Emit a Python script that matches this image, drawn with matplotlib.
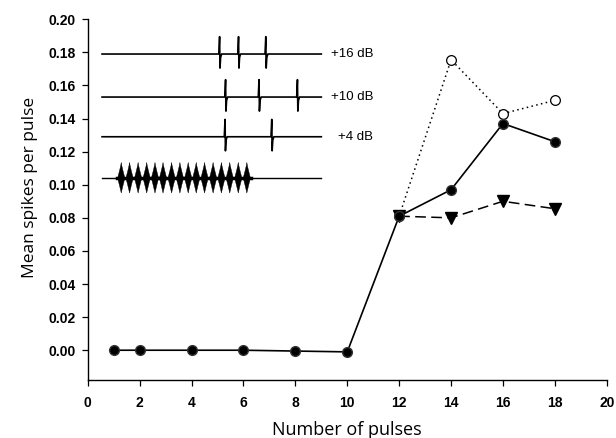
import matplotlib
matplotlib.use("Agg")
import matplotlib.pyplot as plt
import numpy as np

# ---- data ----
x_solid = [1, 2, 4, 6, 8, 10, 12, 14, 16, 18]
y_solid = [0.000, 0.000, 0.000, 0.000, -0.0005, -0.001, 0.081, 0.097, 0.137, 0.126]
x_open = [12, 14, 16, 18]
y_open = [0.081, 0.1755, 0.143, 0.151]
x_tri = [12, 14, 16, 18]
y_tri = [0.081, 0.080, 0.090, 0.0855]

x_ticks = [0, 2, 4, 6, 8, 10, 12, 14, 16, 18, 20]
y_ticks = [0.00, 0.02, 0.04, 0.06, 0.08, 0.10, 0.12, 0.14, 0.16, 0.18, 0.20]

# inset traces (drawn in data coordinates)
trace_labels = ["+16 dB", "+10 dB", "+4 dB"]
trace_levels = [0.179, 0.153, 0.129]
spike_times = [[5.08, 5.81, 6.86], [5.31, 6.60, 8.08], [5.29, 7.09]]
stim_level = 0.104
pulse_centers = [1.29, 1.61, 1.94, 2.27, 2.59, 2.90, 3.23, 3.55,
                 3.87, 4.18, 4.50, 4.83, 5.15, 5.47, 5.80, 6.13]
trace_start, trace_end = 0.55, 9.0
label_x = 11.0

fig = plt.figure(figsize=(6.16, 4.38), dpi=100)
ax = fig.add_axes([0.1425, 0.1324, 0.8425, 0.8236])

# main series
ax.plot(x_open, y_open, linestyle=(0, (1, 2.2)), color="black", lw=1.1,
        marker="o", markersize=7, markerfacecolor="white",
        markeredgecolor="black", markeredgewidth=0.9, zorder=3)
ax.plot(x_tri, y_tri, linestyle=(0, (7, 3.5)), color="black", lw=1.1,
        marker="v", markersize=8, markerfacecolor="black",
        markeredgecolor="black", zorder=3)
ax.plot(x_solid, y_solid, linestyle="-", color="black", lw=1.2,
        marker="o", markersize=7, markerfacecolor="black",
        markeredgecolor="#333333", zorder=4)

# spike traces
for lab, lvl, spikes in zip(trace_labels, trace_levels, spike_times):
    xs = [trace_start]
    ys = [lvl]
    for t in spikes:
        xs += [t - 0.03, t, t + 0.015, t + 0.04, t + 0.08]
        ys += [lvl, lvl + 0.0105, lvl - 0.0085, lvl - 0.002, lvl]
    xs.append(trace_end)
    ys.append(lvl)
    ax.plot(xs, ys, color="black", lw=1.2, zorder=2)
    ax.text(label_x, lvl, lab, fontsize=9.5,
            ha="right", va="center", family="Liberation Sans")

# stimulus trace
ax.plot([trace_start, trace_end], [stim_level, stim_level],
        color="black", lw=1.0, zorder=2)
amp = 0.0095
for c in pulse_centers:
    px = [c - 0.14, c - 0.07, c - 0.02, c, c + 0.02, c + 0.07, c + 0.14,
          c + 0.07, c + 0.02, c, c - 0.02, c - 0.07]
    py = [0, 0.45, 0.8, 1.0, 0.8, 0.45, 0, -0.45, -0.8, -0.95, -0.8, -0.45]
    ax.fill(px, [stim_level + amp * v for v in py],
            color="black", lw=0.3, zorder=2)
ax.plot([pulse_centers[0] - 0.15, pulse_centers[-1] + 0.15],
        [stim_level, stim_level], color="black", lw=2.5, zorder=2)

# axes styling
ax.set_xlim(0, 20)
ax.set_ylim(-0.018, 0.20)
ax.set_xticks(x_ticks)
ax.set_yticks(y_ticks)
ax.set_yticklabels([f"{v:.2f}" for v in y_ticks])
for s in ["top", "right"]:
    ax.spines[s].set_visible(False)
for s in ["left", "bottom"]:
    ax.spines[s].set_linewidth(1.0)
ax.tick_params(direction="out", length=4.5, width=0.9, labelsize=10, pad=4.5)
ax.tick_params(axis="x", pad=7)
for lbl in ax.get_xticklabels() + ax.get_yticklabels():
    lbl.set_fontweight("bold")
    lbl.set_family("Liberation Sans")

ax.set_xlabel("Number of pulses", fontsize=13, family="Open Sans", labelpad=8)
ax.set_ylabel("Mean spikes per pulse", fontsize=12.5, family="Open Sans", labelpad=7)
ax.yaxis.label.set_y(0.535)

fig.savefig("out.png", dpi=100)
